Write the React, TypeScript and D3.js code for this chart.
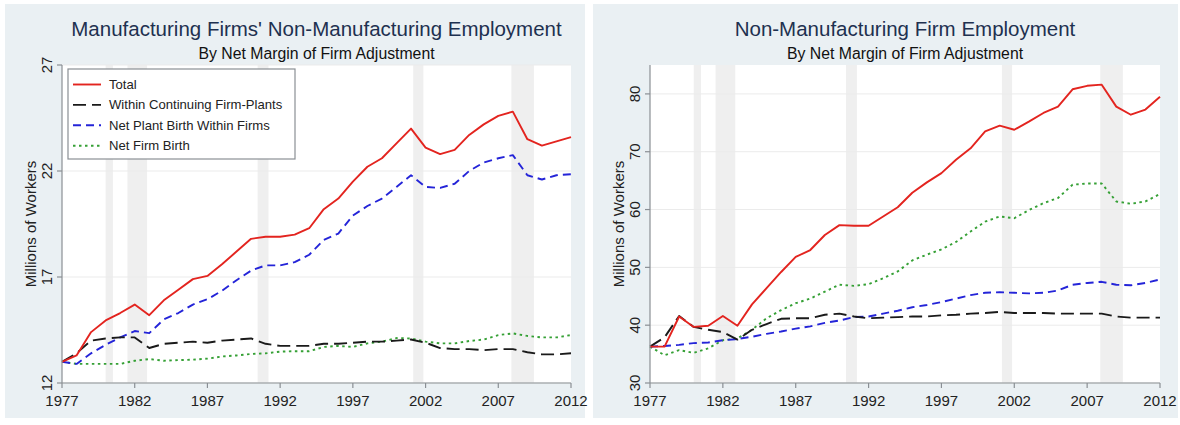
import React from "react";
import * as d3 from "d3";

const years = [1977,1978,1979,1980,1981,1982,1983,1984,1985,1986,1987,1988,1989,1990,1991,1992,1993,1994,1995,1996,1997,1998,1999,2000,2001,2002,2003,2004,2005,2006,2007,2008,2009,2010,2011,2012];
const xTicks = [1977,1982,1987,1992,1997,2002,2007,2012];

// Left panel: Manufacturing firms' non-manufacturing employment (millions)
const mfgTotal = [13.0,13.3,14.4,14.95,15.3,15.7,15.2,15.9,16.4,16.9,17.05,17.6,18.2,18.8,18.9,18.9,19.0,19.3,20.2,20.7,21.5,22.2,22.6,23.3,24.0,23.1,22.8,23.0,23.7,24.2,24.6,24.8,23.5,23.2,23.4,23.6];
const mfgContinuing = [13.0,13.4,14.0,14.1,14.15,14.15,13.65,13.85,13.9,13.95,13.9,14.0,14.05,14.1,13.85,13.75,13.75,13.75,13.85,13.85,13.9,13.95,13.95,14.0,14.05,13.9,13.65,13.6,13.6,13.55,13.6,13.6,13.45,13.35,13.35,13.4];
const mfgPlantBirth = [13.0,12.9,13.4,13.8,14.15,14.45,14.35,15.0,15.3,15.7,15.95,16.35,16.85,17.3,17.55,17.55,17.7,18.05,18.75,19.05,19.9,20.35,20.7,21.25,21.8,21.25,21.2,21.4,22.0,22.4,22.6,22.75,21.8,21.6,21.8,21.85];
const mfgFirmBirth = [13.0,12.9,12.9,12.9,12.9,13.05,13.13,13.05,13.08,13.1,13.15,13.25,13.3,13.37,13.4,13.48,13.5,13.5,13.7,13.75,13.7,13.87,13.95,14.12,14.1,13.95,13.87,13.87,13.98,14.05,14.26,14.34,14.22,14.15,14.15,14.26];

// Right panel: Non-manufacturing firm employment (millions)
const nonTotal = [36.3,36.3,41.5,39.7,39.9,41.6,39.9,43.6,46.4,49.2,51.8,53.0,55.6,57.3,57.2,57.2,58.8,60.4,62.9,64.7,66.3,68.6,70.6,73.5,74.5,73.8,75.2,76.7,77.8,80.8,81.4,81.6,77.8,76.4,77.3,79.5];
const nonContinuing = [36.3,37.9,41.6,39.7,39.2,38.8,37.5,39.2,40.2,41.1,41.2,41.2,41.8,42.0,41.5,41.2,41.3,41.4,41.5,41.5,41.7,41.8,42.0,42.1,42.3,42.1,42.1,42.1,42.0,42.0,42.0,42.0,41.5,41.3,41.3,41.3];
const nonPlantBirth = [36.3,36.4,36.6,36.9,37.0,37.4,37.6,38.0,38.5,38.9,39.4,39.8,40.4,40.8,41.4,41.5,42.0,42.5,43.1,43.5,44.0,44.6,45.2,45.6,45.7,45.6,45.5,45.6,46.0,47.0,47.3,47.5,47.0,46.9,47.3,47.9];
const nonFirmBirth = [36.3,34.8,35.7,35.2,36.0,37.4,37.7,39.2,41.2,42.6,43.8,44.6,45.8,47.0,46.8,47.1,48.1,49.3,51.2,52.2,53.1,54.4,56.2,57.9,58.8,58.5,59.9,61.1,62.0,64.3,64.5,64.5,61.4,61.0,61.4,62.7];

const seriesNames = ["Total", "Within Continuing Firm-Plants", "Net Plant Birth Within Firms", "Net Firm Birth"];
const seriesColors = ["#e3241f", "#1a1a1a", "#2424d8", "#35a035"];
const seriesDash = ["none", "13,6", "8,5", "2.5,3.5"];

const recessions: [number, number][] = [[1980.0, 1980.5], [1981.5, 1982.85], [1990.45, 1991.2], [2001.15, 2001.85], [2007.9, 2009.45]];

const leftYTicks = [12, 17, 22, 27];
const rightYTicks = [30, 40, 50, 60, 70, 80];

type PanelProps = {
  px: number; pw: number;
  x0: number; x1: number; y0: number; y1: number;
  yDomain: [number, number]; yTicks: number[];
  title: string; data: number[][]; legend: boolean;
};

const FONT = "Arial, 'Liberation Sans', Helvetica, sans-serif";

function Panel(p: PanelProps) {
  const x = d3.scaleLinear().domain([1977, 2012]).range([p.x0, p.x1]);
  const y = d3.scaleLinear().domain(p.yDomain).range([p.y1, p.y0]);
  const line = d3.line<number>().x((_, i) => x(years[i])).y(d => y(d));
  const cx = (p.x0 + p.x1) / 2;
  const order = [3, 2, 1, 0];
  return (
    <g>
      <rect x={p.px} y={4} width={p.pw} height={414} fill="#eaf0f3" />
      <rect x={p.x0} y={p.y0} width={p.x1 - p.x0} height={p.y1 - p.y0} fill="#ffffff" />
      {recessions.map((r, i) => (
        <rect key={i} x={x(r[0])} y={p.y0} width={x(r[1]) - x(r[0])} height={p.y1 - p.y0} fill="#efefef" />
      ))}
      {p.yTicks.map(t => (
        <line key={t} x1={p.x0} x2={p.x1} y1={y(t)} y2={y(t)} stroke="#ebebeb" strokeWidth={1} />
      ))}
      {order.map(k => (
        <path key={k} d={line(p.data[k]) || ""} fill="none" stroke={seriesColors[k]} strokeWidth={1.9}
          strokeDasharray={seriesDash[k]} strokeLinejoin="round" />
      ))}
      <line x1={p.x0} x2={p.x0} y1={p.y0} y2={p.y1} stroke="#8a8f94" strokeWidth={1.2} />
      <line x1={p.x0} x2={p.x1} y1={p.y1} y2={p.y1} stroke="#8a8f94" strokeWidth={1.2} />
      {p.yTicks.map(t => (
        <g key={t}>
          <line x1={p.x0 - 5} x2={p.x0} y1={y(t)} y2={y(t)} stroke="#8a8f94" strokeWidth={1.2} />
          <text transform={`translate(${p.x0 - 10},${y(t)}) rotate(-90)`} textAnchor="middle"
            fontSize={15} fill="#222" fontFamily={FONT}>{t}</text>
        </g>
      ))}
      {xTicks.map(t => (
        <g key={t}>
          <line x1={x(t)} x2={x(t)} y1={p.y1} y2={p.y1 + 5} stroke="#8a8f94" strokeWidth={1.2} />
          <text x={x(t)} y={p.y1 + 23} textAnchor="middle" fontSize={15} fill="#222" fontFamily={FONT}>{t}</text>
        </g>
      ))}
      <text transform={`translate(${p.x0 - 26},${(p.y0 + p.y1) / 2}) rotate(-90)`} textAnchor="middle"
        fontSize={15} fill="#222" fontFamily={FONT}>Millions of Workers</text>
      <text x={cx} y={36} textAnchor="middle" fontSize={20.5} fill="#1e3150" fontFamily={FONT}>{p.title}</text>
      <text x={cx} y={58.5} textAnchor="middle" fontSize={15.8} fill="#111" fontFamily={FONT}>By Net Margin of Firm Adjustment</text>
      {p.legend && (
        <g>
          <rect x={68} y={69} width={227} height={90} fill="#ffffff" stroke="#8a8f94" strokeWidth={1.2} />
          {seriesNames.map((n, i) => (
            <g key={n}>
              <line x1={73} x2={101} y1={84.5 + i * 20.4} y2={84.5 + i * 20.4} stroke={seriesColors[i]}
                strokeWidth={1.9} strokeDasharray={seriesDash[i]} />
              <text x={109} y={89 + i * 20.4} fontSize={13.1} fill="#222" fontFamily={FONT}>{n}</text>
            </g>
          ))}
        </g>
      )}
    </g>
  );
}

export default function App() {
  return (
    <svg width={1180} height={425} style={{ position: "absolute", left: 0, top: 0, background: "#fff" }}>
      <rect x={0} y={0} width={1180} height={425} fill="#ffffff" />
      <Panel px={5} pw={580} x0={62} x1={571} y0={65} y1={383} yDomain={[12, 27]} yTicks={leftYTicks}
        title="Manufacturing Firms' Non-Manufacturing Employment"
        data={[mfgTotal, mfgContinuing, mfgPlantBirth, mfgFirmBirth]} legend={true} />
      <Panel px={593} pw={585} x0={650} x1={1160} y0={65} y1={383} yDomain={[30, 85]} yTicks={rightYTicks}
        title="Non-Manufacturing Firm Employment"
        data={[nonTotal, nonContinuing, nonPlantBirth, nonFirmBirth]} legend={false} />
    </svg>
  );
}
